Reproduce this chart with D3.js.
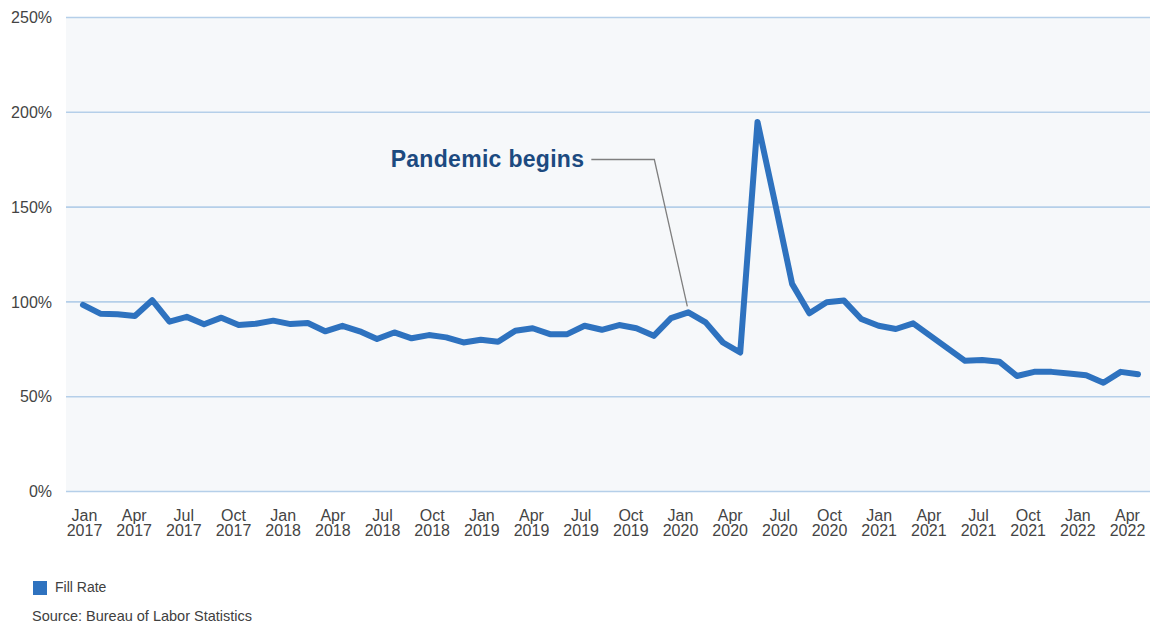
<!DOCTYPE html>
<html>
<head>
<meta charset="utf-8">
<script src="https://cdn.jsdelivr.net/npm/d3@7"></script>
<style>
  html, body { margin: 0; padding: 0; background: #fff; }
  svg { display: block; font-family: "Liberation Sans", Arial, Helvetica, sans-serif; }
</style>
</head>
<body>
<div id="chart"></div>
<script>
// monthly points as drawn (62 of them)
const months = d3.range(62).map(i => d3.timeFormat('%b %Y')(new Date(2017, i, 1)))

const fillRate = [
  98.4, 93.8, 93.5, 92.6, 100.9, 89.6, 92.1, 88.2, 91.7, 87.8,
  88.5, 90.1, 88.3, 88.9, 84.5, 87.4, 84.5, 80.4, 83.9, 80.8,
  82.5, 81.3, 78.6, 80.0, 79.0, 84.8, 86.1, 83.0, 83.0, 87.4,
  85.3, 87.8, 86.1, 82.1, 91.4, 94.5, 89.2, 78.6, 73.3, 194.9,
  152.8, 109.5, 94.0, 99.8, 100.7, 91.0, 87.4, 85.7, 88.7, 82.1,
  75.5, 68.9, 69.3, 68.4, 60.9, 63.1, 63.1, 62.2, 61.3, 57.4,
  63.1, 61.8,
]

const tickLabels = [
  'Jan 2017', 'Apr 2017', 'Jul 2017', 'Oct 2017',
  'Jan 2018', 'Apr 2018', 'Jul 2018', 'Oct 2018',
  'Jan 2019', 'Apr 2019', 'Jul 2019', 'Oct 2019',
  'Jan 2020', 'Apr 2020', 'Jul 2020', 'Oct 2020',
  'Jan 2021', 'Apr 2021', 'Jul 2021', 'Oct 2021',
  'Jan 2022', 'Apr 2022',
]

const yTicks = [0, 50, 100, 150, 200, 250]

const annotation = { text: 'Pandemic begins', index: 35 }
const seriesName = 'Fill Rate'
const source = 'Source: Bureau of Labor Statistics'

const width = 1150
const height = 626
const margin = { top: 17.5, right: 0, bottom: 134.5, left: 66 }
const lineColor = '#2e72bf'

const svg = d3
  .select('#chart')
  .append('svg')
  .attr('width', width)
  .attr('height', height)

const x = d3
  .scalePoint()
  .domain(months)
  .range([83, 1138])

// the labels are spread evenly, not pinned to the points
const xLab = d3
  .scalePoint()
  .domain(tickLabels)
  .range([84, 1127])

const y = d3
  .scaleLinear()
  .domain([0, 250])
  .range([height - margin.bottom, margin.top])

// plot background
svg
  .append('rect')
  .attr('x', margin.left)
  .attr('y', margin.top)
  .attr('width', width - margin.left - margin.right)
  .attr('height', y(0) - margin.top)
  .attr('fill', '#f6f8fa')

// gridlines
svg
  .append('g')
  .selectAll('line')
  .data(yTicks)
  .join('line')
  .attr('x1', margin.left)
  .attr('x2', width - margin.right)
  .attr('y1', d => y(d))
  .attr('y2', d => y(d))
  .attr('stroke', '#b5cfe9')
  .attr('stroke-width', 1.6)

// y axis
svg
  .append('g')
  .attr('transform', `translate(${margin.left},0)`)
  .call(
    d3
      .axisLeft(y)
      .tickValues(yTicks)
      .tickFormat(d => d + '%')
      .tickSize(0)
      .tickPadding(14),
  )
  .call(g => g.select('.domain').remove())
  .call(g =>
    g
      .selectAll('text')
      .attr('fill', '#444')
      .attr('font-size', 16)
      .attr('font-family', null),
  )

// x axis, month and year as two separate lines
svg
  .append('g')
  .attr('transform', `translate(0,${y(0)})`)
  .call(d3.axisBottom(xLab).tickSize(0).tickFormat(''))
  .call(g => g.select('.domain').remove())
  .call(g =>
    g
      .selectAll('.tick')
      .selectAll('text.part')
      .data(d => d.split(' '))
      .join('text')
      .attr('class', 'part')
      .attr('fill', '#444')
      .attr('font-size', 16)
      .attr('text-anchor', 'middle')
      .attr('x', 0)
      .attr('y', (d, i) => 29 + i * 15)
      .text(d => d),
  )

// the series
const line = d3
  .line()
  .x((d, i) => x(months[i]))
  .y(d => y(d))

svg
  .append('path')
  .datum(fillRate)
  .attr('fill', 'none')
  .attr('stroke', lineColor)
  .attr('stroke-width', 6)
  .attr('stroke-linejoin', 'round')
  .attr('stroke-linecap', 'round')
  .attr('d', line)

// annotation
const ax = x(months[annotation.index])
const ay = y(fillRate[annotation.index]) - 6
svg
  .append('polyline')
  .attr('points', [[ax - 97, 159.5], [ax - 34, 159.5], [ax - 1, ay]].join(' '))
  .attr('fill', 'none')
  .attr('stroke', '#7f7f7f')
  .attr('stroke-width', 1.3)

svg
  .append('text')
  .attr('x', ax - 104)
  .attr('y', 166.5)
  .attr('text-anchor', 'end')
  .attr('font-size', 23)
  .attr('letter-spacing', 0.3)
  .attr('font-weight', 'bold')
  .attr('fill', '#1c4a80')
  .text(annotation.text)

// legend
svg
  .append('rect')
  .attr('x', 33)
  .attr('y', 581)
  .attr('width', 14)
  .attr('height', 14)
  .attr('fill', lineColor)

svg
  .append('text')
  .attr('x', 55)
  .attr('y', 592)
  .attr('font-size', 14)
  .attr('fill', '#404040')
  .text(seriesName)

svg
  .append('text')
  .attr('x', 32)
  .attr('y', 621)
  .attr('font-size', 14.5)
  .attr('fill', '#404040')
  .text(source)
</script>
</body>
</html>
